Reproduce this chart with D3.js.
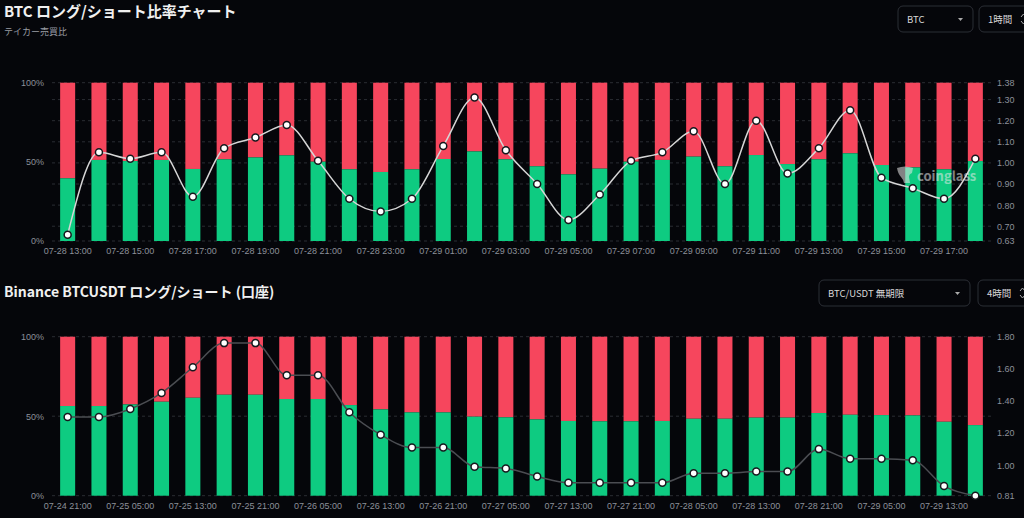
<!DOCTYPE html>
<html lang="ja">
<head>
  <meta charset="UTF-8">
  <title>BTC ロング/ショート比率チャート</title>
  <script src="https://d3js.org/d3.v7.min.js"></script>
  <style>
    body {
      margin: 0;
      background: #05060a;
      font-family: "Noto Sans CJK JP", "Noto Sans", sans-serif;
    }
    .tick-label {
      font-size: 9px;
      fill: #8c9099;
    }
    .grid {
      stroke: #2a2d33;
      stroke-dasharray: 3 3;
    }
  </style>
</head>
<body>
  <svg width="1024" height="518"></svg>

  <script>
    // --- top chart: taker buy/sell ratio, 1h ---
    const topTimes = [
      "07-28 13:00", "07-28 14:00", "07-28 15:00", "07-28 16:00", "07-28 17:00", "07-28 18:00",
      "07-28 19:00", "07-28 20:00", "07-28 21:00", "07-28 22:00", "07-28 23:00", "07-29 00:00",
      "07-29 01:00", "07-29 02:00", "07-29 03:00", "07-29 04:00", "07-29 05:00", "07-29 06:00",
      "07-29 07:00", "07-29 08:00", "07-29 09:00", "07-29 10:00", "07-29 11:00", "07-29 12:00",
      "07-29 13:00", "07-29 14:00", "07-29 15:00", "07-29 16:00", "07-29 17:00", "07-29 18:00"
    ];
    const topLong = [
      39.6, 51.2, 50.5, 51.2, 45.5, 51.6, 52.8, 54.1, 50.1, 45.3,
      43.6, 45.3, 51.8, 56.6, 51.6, 47.2, 42.1, 45.7, 50.1, 51.2,
      53.3, 47.2, 54.3, 48.6, 51.6, 55.4, 48.0, 46.5, 45.3, 50.5
    ];
    const topRatio = [
      0.66, 1.05, 1.02, 1.05, 0.84, 1.07, 1.12, 1.18, 1.01, 0.83,
      0.77, 0.83, 1.08, 1.31, 1.06, 0.90, 0.73, 0.85, 1.01, 1.05,
      1.15, 0.90, 1.20, 0.95, 1.07, 1.25, 0.93, 0.88, 0.83, 1.02
    ];
    const topRatioTicks = [0.63, 0.70, 0.80, 0.90, 1.00, 1.10, 1.20, 1.30, 1.38];

    // --- bottom chart: Binance BTCUSDT accounts, 4h ---
    const bottomTimes = [
      "07-24 21:00", "07-25 01:00", "07-25 05:00", "07-25 09:00", "07-25 13:00", "07-25 17:00",
      "07-25 21:00", "07-26 01:00", "07-26 05:00", "07-26 09:00", "07-26 13:00", "07-26 17:00",
      "07-26 21:00", "07-27 01:00", "07-27 05:00", "07-27 09:00", "07-27 13:00", "07-27 17:00",
      "07-27 21:00", "07-28 01:00", "07-28 05:00", "07-28 09:00", "07-28 13:00", "07-28 17:00",
      "07-28 21:00", "07-29 01:00", "07-29 05:00", "07-29 09:00", "07-29 13:00", "07-29 17:00"
    ];
    const bottomLong = [
      56.4, 56.4, 57.4, 59.1, 61.6, 63.5, 63.5, 60.8, 60.8, 57.0,
      54.3, 52.4, 52.4, 49.7, 49.3, 48.0, 47.0, 46.8, 46.8, 47.0,
      48.4, 48.4, 49.1, 49.1, 52.0, 50.9, 50.7, 50.5, 46.5, 44.4
    ];
    const bottomRatio = [
      1.30, 1.30, 1.35, 1.45, 1.61, 1.76, 1.76, 1.56, 1.56, 1.33,
      1.19, 1.11, 1.11, 0.99, 0.98, 0.93, 0.89, 0.89, 0.89, 0.89,
      0.95, 0.95, 0.96, 0.96, 1.10, 1.04, 1.04, 1.03, 0.87, 0.81
    ];
    const bottomRatioTicks = [0.81, 1.00, 1.20, 1.40, 1.60, 1.80];

    const pctTicks = [0, 50, 100];
    const green = "#0ecb81";
    const red = "#f6465d";

    const svg = d3.select("svg");
    const plotLeft = 52, plotRight = 991;

    function drawPanel(opt) {
      const g = svg.append("g");

      const x = d3.scaleBand()
        .domain(opt.times)
        .range([plotLeft, plotRight])
        .paddingInner(0.52)
        .paddingOuter(0.26);

      const y = d3.scaleLinear().domain([0, 100]).range([opt.bottom, opt.top]);
      const yr = d3.scaleLinear()
        .domain([d3.min(opt.ratioTicks), d3.max(opt.ratioTicks)])
        .range([opt.bottom, opt.top]);

      // grid
      const gridVals = opt.gridOnRatio ? opt.ratioTicks.map(v => yr(v)) : pctTicks.map(v => y(v));
      g.selectAll(".grid")
        .data(gridVals)
        .join("line")
        .attr("class", "grid")
        .attr("x1", plotLeft)
        .attr("x2", plotRight)
        .attr("y1", d => d)
        .attr("y2", d => d);

      const rows = opt.times.map((t, i) => ({ t, long: opt.long[i], ratio: opt.ratio[i] }));

      // short (red) on top, long (green) below
      g.selectAll(".short")
        .data(rows)
        .join("rect")
        .attr("x", d => x(d.t))
        .attr("width", x.bandwidth())
        .attr("y", y(100))
        .attr("height", d => y(d.long) - y(100))
        .attr("fill", red);

      g.selectAll(".long")
        .data(rows)
        .join("rect")
        .attr("x", d => x(d.t))
        .attr("width", x.bandwidth())
        .attr("y", d => y(d.long))
        .attr("height", d => y(0) - y(d.long))
        .attr("fill", green);

      // left axis
      const left = g.append("g")
        .attr("transform", `translate(${plotLeft - 5},0)`)
        .call(d3.axisLeft(y).tickValues(pctTicks).tickSize(0).tickFormat(d => d + "%"));
      left.select(".domain").remove();
      left.selectAll("text").attr("class", "tick-label");

      // right axis
      const right = g.append("g")
        .attr("transform", `translate(${plotRight + 3},0)`)
        .call(d3.axisRight(yr).tickValues(opt.ratioTicks).tickSize(0).tickFormat(d3.format(".2f")));
      right.select(".domain").remove();
      right.selectAll("text").attr("class", "tick-label");

      // bottom axis: every other label
      const bottomAx = g.append("g")
        .attr("transform", `translate(0,${opt.bottom + 4})`)
        .call(d3.axisBottom(x).tickSize(0)
          .tickValues(opt.times.filter((d, i) => i % 2 === 0)));
      bottomAx.select(".domain").remove();
      bottomAx.selectAll("text").attr("class", "tick-label");

      // ratio line
      const line = d3.line()
        .x(d => x(d.t) + x.bandwidth() / 2)
        .y(d => yr(d.ratio))
        .curve(d3.curveMonotoneX);

      g.append("path")
        .datum(rows)
        .attr("d", line)
        .attr("fill", "none")
        .attr("stroke", opt.lineColor)
        .attr("stroke-width", 1.5);

      g.selectAll(".pt")
        .data(rows)
        .join("circle")
        .attr("cx", d => x(d.t) + x.bandwidth() / 2)
        .attr("cy", d => yr(d.ratio))
        .attr("r", 3.5)
        .attr("fill", "#fff")
        .attr("stroke", "#16181d")
        .attr("stroke-width", 1.5);
    }

    drawPanel({
      times: topTimes, long: topLong, ratio: topRatio, ratioTicks: topRatioTicks,
      top: 82.7, bottom: 241, gridOnRatio: true, lineColor: "#d6d6d6"
    });

    drawPanel({
      times: bottomTimes, long: bottomLong, ratio: bottomRatio, ratioTicks: bottomRatioTicks,
      top: 336.7, bottom: 495.7, gridOnRatio: false, lineColor: "#4b4d52"
    });

    // titles
    svg.append("text")
      .attr("x", 4).attr("y", 17)
      .attr("fill", "#f0f0f0")
      .attr("font-size", 15).attr("font-weight", "bold")
      .text("BTC ロング/ショート比率チャート");

    svg.append("text")
      .attr("x", 4).attr("y", 35)
      .attr("fill", "#9a9da4")
      .attr("font-size", 9)
      .text("テイカー売買比");

    svg.append("text")
      .attr("x", 4).attr("y", 297)
      .attr("fill", "#f0f0f0")
      .attr("font-size", 14).attr("font-weight", "bold")
      .text("Binance BTCUSDT ロング/ショート (口座)");

    // dropdown controls
    function control(x0, y0, w, label, icon) {
      const c = svg.append("g").attr("transform", `translate(${x0},${y0})`);
      c.append("rect")
        .attr("width", w).attr("height", 26).attr("rx", 5)
        .attr("fill", "none").attr("stroke", "#2b2e35");
      c.append("text")
        .attr("x", 9).attr("y", 17)
        .attr("fill", "#d8d8d8").attr("font-size", 9.5)
        .text(label);
      if (icon === "caret") {
        c.append("path")
          .attr("d", `M${w - 15},12 l5,0 l-2.5,3 z`)
          .attr("fill", "#aaa");
      } else {
        c.append("path")
          .attr("d", `M${w - 14},11 l2.5,-3 l2.5,3 M${w - 14},15 l2.5,3 l2.5,-3`)
          .attr("fill", "none").attr("stroke", "#aaa").attr("stroke-width", 1);
      }
    }
    control(898, 6, 75, "BTC", "caret");
    control(979, 6, 56, "1時間", "updown");
    control(819, 280, 151, "BTC/USDT 無期限", "caret");
    control(978, 280, 56, "4時間", "updown");

    // watermark
    const wm = svg.append("g").attr("opacity", 0.55);
    wm.append("path")
      .attr("d", "M897,168 q8,-3 16,0 l-1,5 q-3,1 -3,4 l1,6 l-6,0 q-1,-4 -3,-6 q-3,-3 -4,-9 z")
      .attr("fill", "#e8e8e8");
    wm.append("text")
      .attr("x", 917).attr("y", 181)
      .attr("fill", "#e8e8e8")
      .attr("font-size", 13).attr("font-weight", "bold")
      .text("coinglass");
  </script>
</body>
</html>
